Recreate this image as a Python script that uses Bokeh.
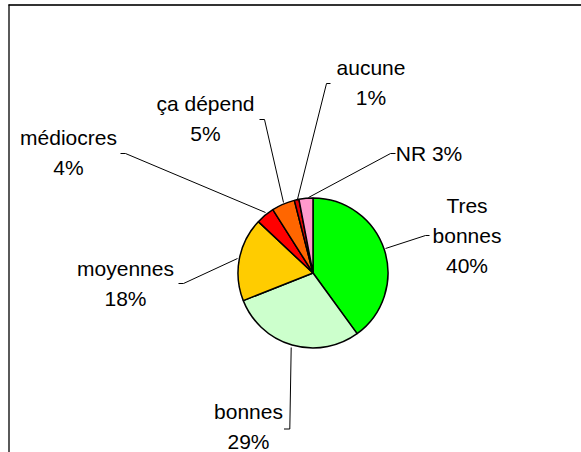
import math
from bokeh.plotting import figure
from bokeh.models import Range1d, ColumnDataSource
from bokeh.core.properties import value
from bokeh.embed import file_html
from bokeh.resources import INLINE

# ---- data ----
categories = ["Tres bonnes", "bonnes", "moyennes", "médiocres", "ça dépend", "aucune", "NR"]
percents = [40, 29, 18, 4, 5, 1, 3]
colors = ["#00FF00", "#CCFFCC", "#FFCC00", "#FF0000", "#FF6600", "#E00000", "#FF99CC"]
label_texts = ["Tres\nbonnes\n40%", "bonnes\n29%", "moyennes\n18%", "médiocres\n4%",
               "ça dépend\n5%", "aucune\n1%", "NR 3%"]

# ---- layout (pixel coordinates of the picture) ----
W, H = 581, 452
cx, cy, R = 312.5, 272.5, 75
LINE_GAP = 30
# x centre and y of the first line of each label block
label_pos = [(466.5, 205), (248, 411), (125, 268), (68, 137), (205, 103), (370.5, 67), (428.5, 153)]
leaders = [
    [(385, 248), (425, 235), (429, 235)],
    [(290.7, 347), (289.3, 428.5), (283.5, 428.5)],
    [(237, 258), (183, 283), (178, 283)],
    [(265, 212), (125, 153), (120, 153)],
    [(283, 202), (264, 119), (259, 119)],
    [(296.7, 200), (326, 83), (330, 83)],
    [(308, 197), (390, 153), (395, 153)],
]

p = figure(width=W, height=H, output_backend="svg", toolbar_location=None,
           x_range=Range1d(0, W), y_range=Range1d(-H, 0),
           min_border=0, min_border_left=0, min_border_right=0,
           min_border_top=0, min_border_bottom=0)
p.xaxis.visible = False
p.yaxis.visible = False
p.grid.visible = False
p.outline_line_color = None
p.background_fill_color = "white"
p.border_fill_color = "white"

# frame
p.segment(x0=[8], y0=[-4.5], x1=[W], y1=[-4.5], line_color="#333333", line_width=2)
p.segment(x0=[8.5], y0=[-4], x1=[8.5], y1=[-H], line_color="#000000", line_width=1.3)

# pie
total = sum(percents)
starts, ends = [], []
cum = 0
for v in percents:
    starts.append(math.pi / 2 - 2 * math.pi * cum / total)
    cum += v
    ends.append(math.pi / 2 - 2 * math.pi * cum / total)
src = ColumnDataSource(dict(start=starts, end=ends, color=colors, cat=categories))
p.wedge(x=cx, y=-cy, radius=R, start_angle="start", end_angle="end", direction="clock",
        fill_color="color", line_color="black", line_width=1.5, source=src)

# leader lines
for pts in leaders:
    p.line(x=[q[0] for q in pts], y=[-q[1] for q in pts], line_color="black", line_width=1)

# labels, one text per line
tx, ty, tt = [], [], []
for (lx, ly), lab in zip(label_pos, label_texts):
    for i, line in enumerate(lab.split("\n")):
        tx.append(lx)
        ty.append(-(ly + i * LINE_GAP))
        tt.append(line)
y_fix = [v if v > -445 else v + 1 for v in ty]
p.text(x=tx, y=y_fix, text=tt,
       text_align="center", text_baseline="middle", text_font=value("Liberation Sans"),
       text_font_size="21px", text_color="black", text_line_height=1.0)

open("out.html", "w").write(file_html(p, INLINE))
